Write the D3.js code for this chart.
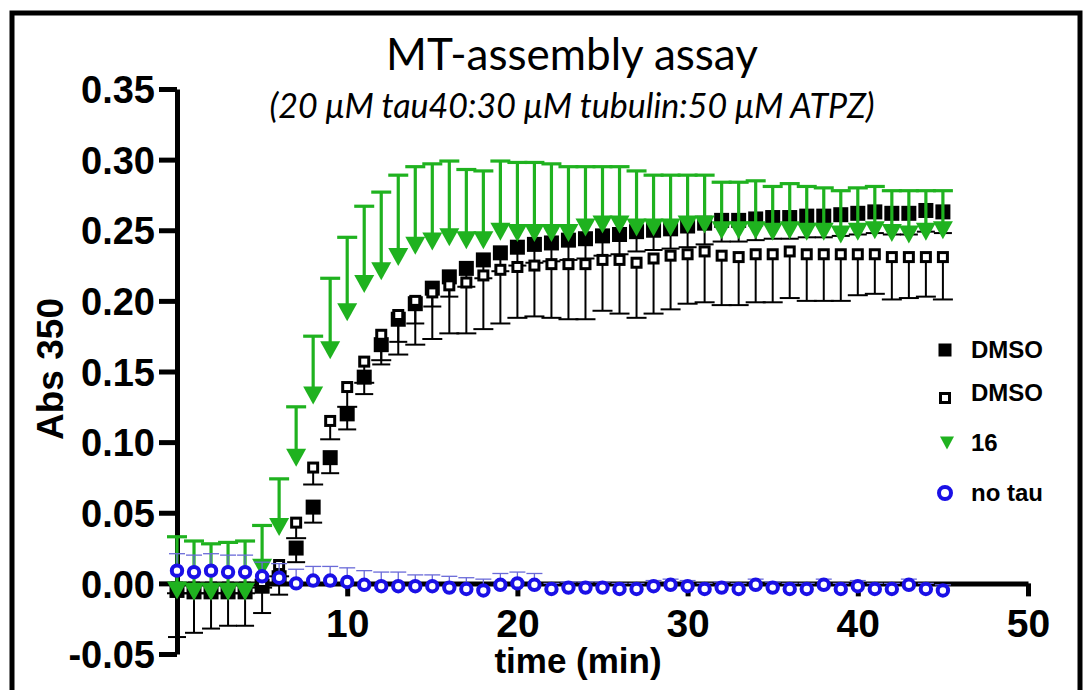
<!DOCTYPE html>
<html>
<head>
<meta charset="utf-8">
<script src="https://cdn.jsdelivr.net/npm/d3@7"></script>
<style>
  body { margin: 0; background: #fff; }
  svg text { fill: #000; }
</style>
</head>
<body>
<svg id="canvas"></svg>
<script>
// time points (min)
let times = [0,1,2,3,4,5,6,7,8,9,10,11,12,13,14,15,16,17,18,19,20,21,22,23,24,25,26,27,28,29,30,31,32,33,34,35,36,37,38,39,40,41,42,43,44,45]

// DMSO (filled squares), error bar drawn down
let dmsoA = [-0.005,-0.006,-0.006,-0.006,-0.006,-0.002,0.004,0.025,0.054,0.089,0.120,0.146,0.169,0.187,0.198,0.209,0.217,0.223,0.229,0.234,0.238,0.240,0.241,0.243,0.244,0.246,0.247,0.249,0.250,0.251,0.253,0.255,0.257,0.257,0.258,0.259,0.259,0.260,0.260,0.261,0.262,0.263,0.262,0.262,0.264,0.263]
let dmsoAErr = [0.033,0.029,0.026,0.024,0.024,0.019,0.012,0.010,0.011,0.011,0.011,0.012,0.014,0.016,0.014,0.013,0.014,0.013,0.013,0.013,0.013,0.013,0.013,0.014,0.014,0.014,0.014,0.014,0.014,0.014,0.015,0.015,0.015,0.015,0.015,0.015,0.015,0.015,0.015,0.015,0.015,0.015,0.015,0.015,0.015,0.015]

// DMSO (open squares), error bar drawn down
let dmsoB = [-0.003,-0.003,-0.003,-0.003,-0.003,0.001,0.013,0.043,0.082,0.115,0.139,0.157,0.176,0.190,0.200,0.206,0.211,0.213,0.218,0.222,0.224,0.225,0.226,0.226,0.226,0.229,0.229,0.227,0.230,0.232,0.233,0.235,0.232,0.231,0.233,0.233,0.235,0.233,0.233,0.233,0.233,0.233,0.231,0.231,0.231,0.231]
let dmsoBErr = [0.004,0.004,0.004,0.004,0.004,0.004,0.008,0.011,0.012,0.013,0.014,0.015,0.018,0.028,0.031,0.033,0.034,0.036,0.038,0.038,0.036,0.036,0.038,0.039,0.039,0.036,0.038,0.039,0.039,0.038,0.035,0.036,0.035,0.034,0.034,0.034,0.033,0.033,0.033,0.033,0.029,0.028,0.030,0.029,0.028,0.030]

// compound 16 (green triangles), error bar drawn up
let cpd16 = [-0.005,-0.006,-0.006,-0.006,-0.006,0.011,0.040,0.089,0.133,0.165,0.192,0.212,0.221,0.231,0.239,0.242,0.245,0.243,0.243,0.249,0.248,0.248,0.248,0.248,0.252,0.254,0.254,0.252,0.252,0.252,0.254,0.254,0.250,0.250,0.250,0.249,0.250,0.249,0.249,0.247,0.249,0.250,0.248,0.247,0.249,0.250]
let cpd16Err = [0.038,0.036,0.034,0.035,0.036,0.030,0.034,0.036,0.042,0.051,0.053,0.055,0.056,0.058,0.056,0.055,0.054,0.050,0.049,0.050,0.050,0.050,0.049,0.047,0.043,0.041,0.041,0.040,0.037,0.037,0.035,0.035,0.034,0.034,0.035,0.032,0.033,0.032,0.031,0.031,0.031,0.031,0.030,0.031,0.029,0.028]

// no tau (blue circles), error bar drawn up
let noTau = [0.009,0.008,0.009,0.008,0.008,0.005,0.004,0.000,0.002,0.002,0.001,-0.001,-0.002,-0.002,-0.002,-0.002,-0.003,-0.004,-0.005,-0.001,0.000,-0.001,-0.004,-0.003,-0.003,-0.003,-0.004,-0.004,-0.002,-0.001,-0.002,-0.004,-0.003,-0.004,-0.001,-0.003,-0.004,-0.004,-0.001,-0.004,-0.002,-0.004,-0.004,-0.001,-0.004,-0.005]
let noTauErr = [0.012,0.012,0.012,0.012,0.012,0.010,0.010,0.010,0.010,0.010,0.010,0.010,0.010,0.010,0.008,0.008,0.008,0.008,0.008,0.008,0.008,0.008,0.004,0.004,0.004,0.004,0.004,0.004,0.004,0.004,0.004,0.004,0.004,0.004,0.004,0.004,0.004,0.004,0.004,0.004,0.004,0.004,0.004,0.004,0.004,0.004]

let xTicks = [10, 20, 30, 40, 50]
let yTicks = [-0.05, 0.00, 0.05, 0.10, 0.15, 0.20, 0.25, 0.30, 0.35]
let legendNames = ["DMSO", "DMSO", "16", "no tau"]

let width = 1089
let height = 690

let canvas = d3.select("#canvas")
canvas.attr("width", width).attr("height", height)

let xScale = d3.scaleLinear().domain([0, 50]).range([177, 1028])
let yScale = d3.scaleLinear().domain([-0.05, 0.35]).range([654, 89])

let green = "#1fb21f"
let blue = "#1a10e6"
let labelFont = "'Liberation Sans', Arial, sans-serif"

// outer frame
canvas.append("rect")
      .attr("x", 12).attr("y", 13)
      .attr("width", 1068).attr("height", 700)
      .attr("fill", "none").attr("stroke", "#000").attr("stroke-width", 5)

// titles
canvas.append("text")
      .attr("x", 572).attr("y", 70)
      .attr("text-anchor", "middle")
      .style("font-family", "Lato, 'Open Sans', sans-serif")
      .style("font-size", "44px")
      .text("MT-assembly assay")

canvas.append("text")
      .attr("x", 572).attr("y", 118)
      .attr("text-anchor", "middle")
      .style("font-family", "Lato, 'Open Sans', sans-serif")
      .style("font-style", "italic")
      .style("font-size", "34px")
      .text("(20 μM tau40:30 μM tubulin:50 μM ATPZ)")

// axes
let yAxis = d3.axisLeft(yScale)
              .tickValues(yTicks)
              .tickSize(18).tickSizeOuter(0)
              .tickPadding(4)
              .tickFormat(d => d.toFixed(2))
let yG = canvas.append("g").attr("transform", "translate(" + xScale(0) + ",0)").call(yAxis)

let xAxis = d3.axisBottom(xScale)
              .tickValues(xTicks)
              .tickSize(13).tickSizeOuter(0)
              .tickPadding(13)
let xG = canvas.append("g").attr("transform", "translate(0," + yScale(0) + ")").call(xAxis)

;[yG, xG].forEach(g => {
  g.select(".domain").attr("stroke", "#000").attr("stroke-width", 5)
  g.selectAll(".tick line").attr("stroke", "#000").attr("stroke-width", 5)
  g.selectAll(".tick text")
   .style("font-family", labelFont)
   .style("font-weight", "bold")
   .attr("fill", "#000")
})
yG.selectAll(".tick text").style("font-size", "38px").attr("dy", "0.36em")
xG.selectAll(".tick text").style("font-size", "39px")

// axis titles
canvas.append("text")
      .attr("transform", "translate(63," + 369 + ") rotate(-90)")
      .attr("text-anchor", "middle")
      .style("font-family", labelFont)
      .style("font-weight", "bold")
      .style("font-size", "37px")
      .text("Abs 350")

canvas.append("text")
      .attr("x", 578).attr("y", 673)
      .attr("text-anchor", "middle")
      .style("font-family", labelFont)
      .style("font-weight", "bold")
      .style("font-size", "35px")
      .text("time (min)")

// error bars, one-sided like in the Prism export
function drawErrors(values, errs, dir, color, sw, capW) {
  let g = canvas.append("g")
  times.forEach((t, i) => {
    let x = xScale(t)
    let y0 = yScale(values[i])
    let y1 = yScale(values[i] + dir * errs[i])
    g.append("line").attr("x1", x).attr("x2", x).attr("y1", y0).attr("y2", y1)
     .attr("stroke", color).attr("stroke-width", sw)
    g.append("line").attr("x1", x - capW / 2).attr("x2", x + capW / 2).attr("y1", y1).attr("y2", y1)
     .attr("stroke", color).attr("stroke-width", sw)
  })
}

function filledSquare(g, x, y, s) {
  g.append("rect").attr("x", x - s / 2).attr("y", y - s / 2).attr("width", s).attr("height", s).attr("fill", "#000")
}
function openSquare(g, x, y, s) {
  g.append("rect").attr("x", x - s / 2 + 1.5).attr("y", y - s / 2 + 1.5).attr("width", s - 3).attr("height", s - 3)
   .attr("fill", "#fff").attr("stroke", "#000").attr("stroke-width", 3)
}
function downTriangle(g, x, y, w, h) {
  g.append("path").attr("d", `M${x - w / 2},${y - h / 2}L${x + w / 2},${y - h / 2}L${x},${y + h / 2}Z`).attr("fill", green)
}
function ring(g, x, y, r) {
  g.append("circle").attr("cx", x).attr("cy", y).attr("r", r).attr("fill", "#fff").attr("stroke", blue).attr("stroke-width", 4)
}

drawErrors(dmsoA, dmsoAErr, -1, "#000", 2, 18)
let gA = canvas.append("g")
times.forEach((t, i) => filledSquare(gA, xScale(t), yScale(dmsoA[i]), 15))

drawErrors(dmsoB, dmsoBErr, -1, "#000", 2, 20)
let gB = canvas.append("g")
times.forEach((t, i) => openSquare(gB, xScale(t), yScale(dmsoB[i]), 12))

drawErrors(cpd16, cpd16Err, 1, green, 3.2, 20)
let gC = canvas.append("g")
times.forEach((t, i) => downTriangle(gC, xScale(t), yScale(cpd16[i]), 20, 18))

drawErrors(noTau, noTauErr, 1, "#6a6ad8", 1.3, 16)
let gD = canvas.append("g")
times.forEach((t, i) => ring(gD, xScale(t), yScale(noTau[i]), 5.2))

// legend
let legendY = [350, 393, 443, 493]
let leg = canvas.append("g")
filledSquare(leg, 945, legendY[0], 13)
openSquare(leg, 945, legendY[1] + 5, 12)
downTriangle(leg, 947, legendY[2], 14, 13)
ring(leg, 945, legendY[3], 6)
legendNames.forEach((name, i) => {
  leg.append("text")
     .attr("x", 971).attr("y", legendY[i] + 8)
     .style("font-family", labelFont)
     .style("font-weight", "bold")
     .style("font-size", "24px")
     .text(name)
})
</script>
</body>
</html>
